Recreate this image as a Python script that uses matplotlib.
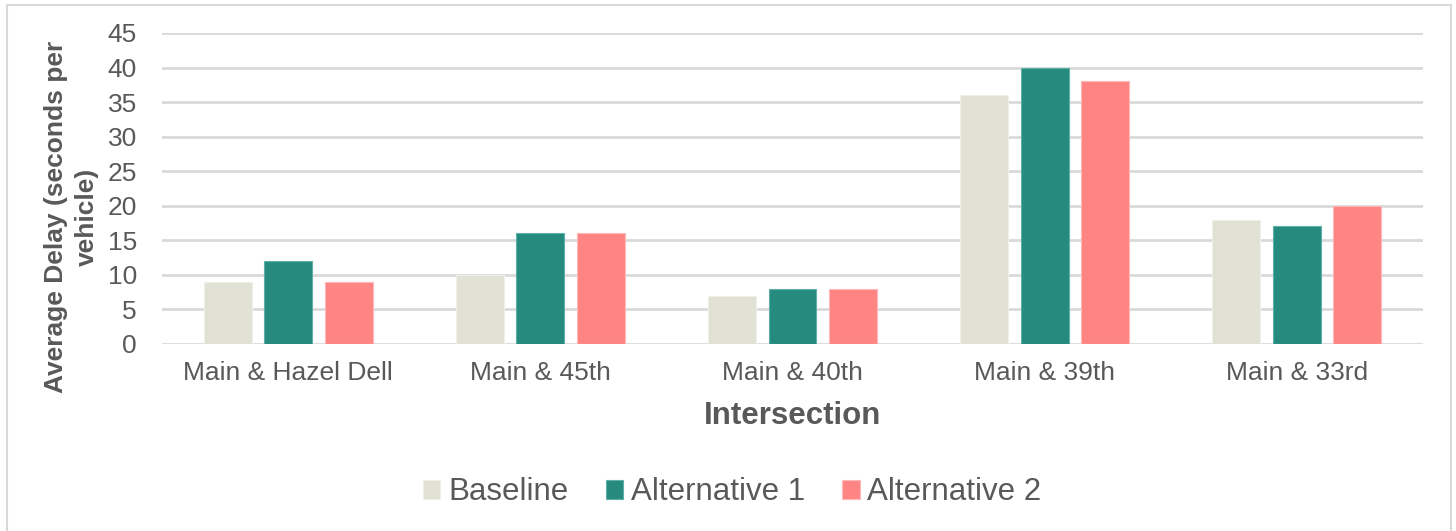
import numpy as np
import matplotlib.pyplot as plt
from matplotlib.patches import Rectangle

intersections = ["Main & Hazel Dell", "Main & 45th", "Main & 40th", "Main & 39th", "Main & 33rd"]
baseline = [9, 10, 7, 36, 18]
alternative_1 = [12, 16, 8, 40, 17]
alternative_2 = [9, 16, 8, 38, 20]
series_names = ["Baseline", "Alternative 1", "Alternative 2"]
y_ticks = [0, 5, 10, 15, 20, 25, 30, 35, 40, 45]

colors = ["#E1E1D6", "#268A7F", "#FF8585"]
edges = ["#F0F0E8", "#5FB0A6", "#FFB8B8"]
text_color = "#595959"

plt.rcParams["font.family"] = ["Liberation Sans", "DejaVu Sans"]

fig = plt.figure(figsize=(14.56, 5.31), dpi=100)
ax = fig.add_axes([0.1113, 0.3522, 0.8660, 0.5857])

x = np.arange(len(intersections))
width = 0.19
offset = 0.24
for i, (vals, name) in enumerate(zip([baseline, alternative_1, alternative_2], series_names)):
    ax.bar(x + (i - 1) * offset, vals, width, color=colors[i], edgecolor=edges[i],
           linewidth=0.8, label=name, zorder=3)

ax.set_xlim(-0.5, len(intersections) - 0.5)
ax.set_ylim(0, 45)
ax.set_yticks(y_ticks)
ax.set_xticks(x)
ax.set_xticklabels(intersections)
ax.tick_params(axis="both", length=0, labelsize=19, colors=text_color)
ax.tick_params(axis="x", pad=12)
ax.tick_params(axis="y", pad=18)
ax.yaxis.grid(True, color="#D9D9D9", linewidth=2, zorder=0)
for s in ax.spines.values():
    s.set_visible(False)

ax.set_xlabel("Intersection", fontsize=22.5, fontweight="bold", color=text_color, labelpad=12)
# y label sits a bit below the axis centre, like the original
fig.text(71.5 / 1456, 1 - 217 / 531, "Average Delay (seconds per\nvehicle)", rotation=90,
         ha="center", va="center", fontsize=19, fontweight="bold", color=text_color,
         linespacing=1.4, multialignment="center")

leg = fig.legend(loc="center", bbox_to_anchor=(0.503, 0.073), ncol=3, frameon=False,
                 fontsize=22.5, handlelength=0.55, handleheight=0.55, handletextpad=0.25,
                 columnspacing=1.2)
for t in leg.get_texts():
    t.set_color(text_color)

fig.patches.append(Rectangle((6.5 / 1456, -0.05), 1444 / 1456, 1 - 5.5 / 531 + 0.05,
                             transform=fig.transFigure, fill=False, edgecolor="#D9D9D9",
                             linewidth=1.5))

fig.savefig("out.png", dpi=100, facecolor="white")
